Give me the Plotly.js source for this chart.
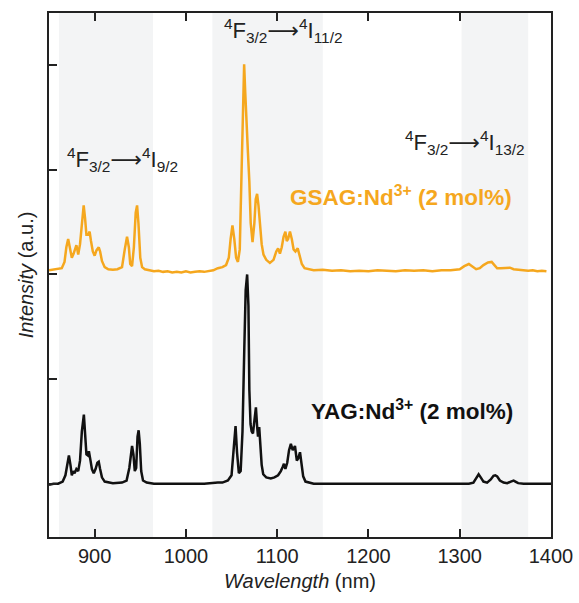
<!DOCTYPE html>
<html>
<head>
<meta charset="utf-8">
<script src="https://cdn.plot.ly/plotly-3.0.1.min.js"></script>
<style>html,body{margin:0;padding:0;background:#fff;}#chart{width:579px;height:603px;}</style>
</head>
<body>
<div id="chart"></div>
<script>
// ---- data ----
const gsagWavelength = [850,855,860,864,867,869,871,873,875,877,879,880,881,882,884,886,888,889.5,891,893,894.5,896,898,900,902,904.5,906,908,911,915,920,925,930,933,935.5,937.5,939,941,943,945,946.5,948,950,952,955,960,965,970,975,980,985,990,995,1000,1005,1010,1015,1020,1025,1030,1035,1040,1044,1047,1049,1051,1053,1055,1057,1059,1061,1062.5,1063.8,1065,1066.5,1068,1069.5,1071,1073,1075,1076.5,1078,1079.5,1081,1083,1085,1088,1092,1096,1099,1101,1103,1105,1107,1109,1110.5,1112,1114,1116,1118,1120,1122.5,1124.5,1127,1130,1135,1140,1150,1160,1170,1180,1190,1200,1210,1220,1230,1240,1250,1260,1270,1280,1290,1300,1305,1310,1314.5,1318,1322,1326,1331,1335,1338,1341,1345,1350,1355,1359,1364,1370,1375,1380,1385,1390,1395,1400];
const gsagIntensity = [0.00,0.005,0.01,0.02,0.08,0.22,0.30,0.22,0.12,0.16,0.22,0.24,0.20,0.15,0.25,0.48,0.62,0.50,0.34,0.34,0.37,0.28,0.18,0.14,0.19,0.22,0.18,0.09,0.03,0.01,0.005,0.01,0.03,0.20,0.32,0.22,0.06,0.04,0.22,0.55,0.62,0.45,0.12,0.03,0.01,0.0,-0.01,-0.005,-0.015,-0.01,-0.02,-0.015,-0.02,-0.01,-0.02,-0.015,-0.01,-0.015,-0.005,0.0,0.02,0.03,0.05,0.12,0.30,0.43,0.30,0.12,0.08,0.20,0.95,1.60,1.97,1.70,1.30,1.12,0.85,0.45,0.27,0.45,0.68,0.73,0.62,0.42,0.25,0.15,0.10,0.07,0.10,0.18,0.21,0.16,0.22,0.32,0.37,0.28,0.30,0.37,0.30,0.20,0.18,0.21,0.14,0.06,0.02,0.01,0.0,0.005,-0.005,0.0,-0.01,-0.005,-0.01,0.0,-0.005,-0.01,0.0,-0.005,0.0,-0.01,0.0,0.0,0.01,0.04,0.06,0.03,0.01,0.02,0.05,0.075,0.08,0.05,0.02,0.02,0.02,0.025,0.01,0.005,0.0,-0.005,0.0,-0.01,-0.005,-0.01];
const yagWavelength = [850,855,860,865,868,870,871.8,873.5,875,876.5,878,880,882,884,886,888.2,889.5,891,892.5,893.7,895.5,897,899,901,903,904.5,906,908,911,915,920,930,935,938,941,942.5,944,945.5,947,948.2,949.5,951,953,957,965,980,1000,1020,1035,1040,1046,1050,1052.5,1054.4,1056,1058,1060,1062,1064,1065.5,1067.1,1068.5,1069.5,1070.8,1072,1073.5,1075,1076.7,1078,1079,1080.3,1081.5,1083,1084.7,1088,1093,1097,1101,1104,1106,1107.4,1109,1111,1113,1115,1117,1119.5,1121.5,1123,1125,1126.5,1128.5,1131,1135,1140,1160,1200,1250,1300,1310,1315,1318,1320.7,1323,1326,1330,1334,1337,1339,1341,1344,1348,1352,1356,1359,1361,1364,1370,1385,1400];
const yagIntensity = [-0.01,0.0,0.0,0.02,0.08,0.20,0.27,0.18,0.08,0.12,0.10,0.14,0.12,0.22,0.50,0.66,0.45,0.28,0.27,0.31,0.22,0.14,0.10,0.14,0.20,0.21,0.14,0.06,0.02,0.01,0.005,0.01,0.03,0.15,0.36,0.28,0.12,0.15,0.45,0.51,0.38,0.12,0.03,0.01,0.0,0.0,0.0,0.0,0.01,0.01,0.03,0.08,0.35,0.55,0.30,0.10,0.12,0.50,1.30,1.85,2.00,1.70,0.90,0.57,0.50,0.48,0.60,0.73,0.55,0.45,0.54,0.38,0.18,0.09,0.06,0.05,0.06,0.08,0.12,0.16,0.19,0.14,0.20,0.32,0.38,0.32,0.36,0.22,0.24,0.30,0.20,0.07,0.02,0.01,0.0,0.0,0.0,0.0,0.0,0.0,0.01,0.06,0.09,0.06,0.02,0.01,0.04,0.075,0.08,0.07,0.03,0.01,0.005,0.02,0.03,0.02,0.005,0.0,0.0,0.0];
const gsagOffset = 2.04;
const bandStarts = [861, 1029, 1302];
const bandEnds = [964, 1150, 1375];
const xTicks = [900, 1000, 1100, 1200, 1300, 1400];
const yTicks = [0, 1, 2, 3, 4];

const ORANGE = '#F5A71E';
const FONT = 'Liberation Sans, Arial, sans-serif';
const ARROW = '<span style="font-family:DejaVu Sans">\u27F6</span>';

const traces = [
  {x: gsagWavelength, y: gsagIntensity.map(v => v + gsagOffset), type: 'scatter', mode: 'lines',
   line: {color: ORANGE, width: 2.5}, hoverinfo: 'skip'},
  {x: yagWavelength, y: yagIntensity, type: 'scatter', mode: 'lines',
   line: {color: '#111111', width: 2.5}, hoverinfo: 'skip'}
];

const shapes = bandStarts.map((s, i) => ({
  type: 'rect', xref: 'x', yref: 'paper', x0: s, x1: bandEnds[i], y0: 0, y1: 1,
  fillcolor: '#f3f4f5', line: {width: 0}, layer: 'below'
}));

const annotations = [
  {x: 930, y: 3.1, text: '<sup>4</sup>F<sub>3/2</sub>' + ARROW + '<sup>4</sup>I<sub>9/2</sub>', showarrow: false,
   font: {family: FONT, size: 22, color: '#222'}, xanchor: 'center', yanchor: 'middle'},
  {x: 1106, y: 4.33, text: '<sup>4</sup>F<sub>3/2</sub>' + ARROW + '<sup>4</sup>I<sub>11/2</sub>', showarrow: false,
   font: {family: FONT, size: 22, color: '#222'}, xanchor: 'center', yanchor: 'middle'},
  {x: 1306, y: 3.26, text: '<sup>4</sup>F<sub>3/2</sub>' + ARROW + '<sup>4</sup>I<sub>13/2</sub>', showarrow: false,
   font: {family: FONT, size: 22, color: '#222'}, xanchor: 'center', yanchor: 'middle'},
  {x: 1236, y: 2.75, text: '<b>GSAG:Nd<sup>3+</sup> (2 mol%)</b>', showarrow: false,
   font: {family: FONT, size: 22.5, color: ORANGE}, xanchor: 'center', yanchor: 'middle'},
  {x: 1248, y: 0.70, text: '<b>YAG:Nd<sup>3+</sup> (2 mol%)</b>', showarrow: false,
   font: {family: FONT, size: 22.5, color: '#111'}, xanchor: 'center', yanchor: 'middle'}
];

const layout = {
  width: 579, height: 603,
  margin: {l: 49, r: 28, t: 13, b: 66},
  paper_bgcolor: '#fff', plot_bgcolor: '#fff',
  showlegend: false,
  font: {family: FONT, color: '#222'},
  xaxis: {
    range: [850, 1400], tickvals: xTicks, ticktext: xTicks.map(String),
    ticks: 'inside', ticklen: 8, tickwidth: 2, tickcolor: '#222',
    showline: true, linecolor: '#222', linewidth: 2, mirror: 'ticks',
    showgrid: false, zeroline: false,
    tickfont: {family: FONT, size: 20, color: '#222'},
    title: {text: '<i>Wavelength</i> (nm)', font: {family: FONT, size: 20, color: '#222'}, standoff: 8}
  },
  yaxis: {
    range: [-0.51, 4.5], tickvals: yTicks, showticklabels: false,
    ticks: 'inside', ticklen: 8, tickwidth: 2, tickcolor: '#222',
    showline: true, linecolor: '#222', linewidth: 2, mirror: true,
    showgrid: false, zeroline: false,
    title: {text: '<i>Intensity</i> (a.u.)', font: {family: FONT, size: 20, color: '#222'}, standoff: 8}
  },
  shapes: shapes,
  annotations: annotations
};

Plotly.newPlot('chart', traces, layout, {staticPlot: true, displayModeBar: false});
</script>
</body>
</html>
